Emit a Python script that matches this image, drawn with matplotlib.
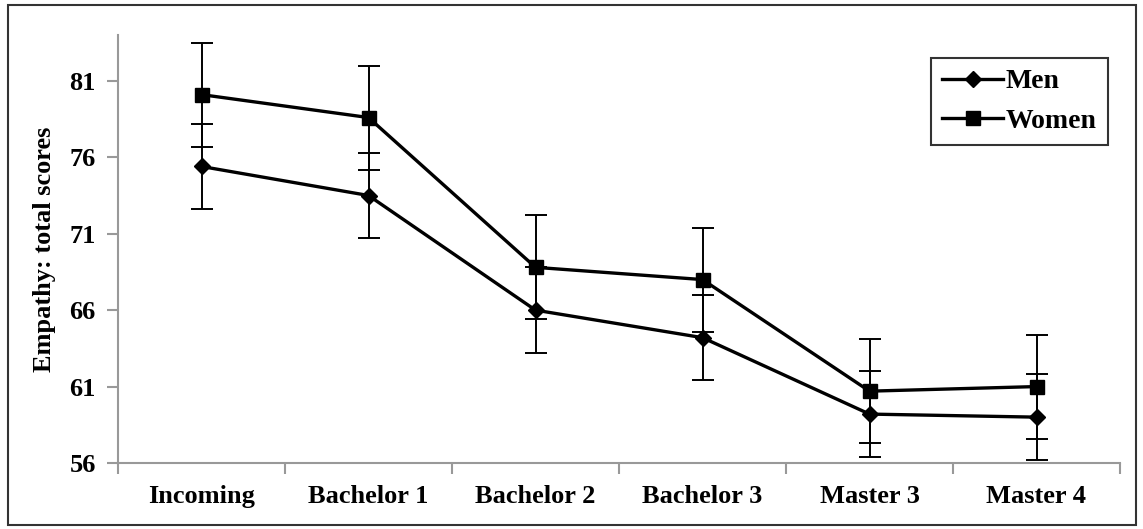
import matplotlib.pyplot as plt
from matplotlib.patches import Rectangle
from matplotlib.lines import Line2D
import numpy as np

# data
stages = ["Incoming", "Bachelor 1", "Bachelor 2", "Bachelor 3", "Master 3", "Master 4"]
men = [75.4, 73.5, 66.0, 64.2, 59.2, 59.0]
women = [80.1, 78.6, 68.8, 68.0, 60.7, 61.0]
men_err = [2.8, 2.8, 2.8, 2.8, 2.8, 2.8]
women_err = [3.4, 3.4, 3.4, 3.4, 3.4, 3.4]
yticks = [56, 61, 66, 71, 76, 81]

plt.rcParams['font.family'] = ['Liberation Serif', 'DejaVu Serif']
plt.rcParams['font.weight'] = 'bold'

fig = plt.figure(figsize=(11.43, 5.29), dpi=100)
ax = fig.add_axes([118/1143, (529-463)/529, (1120-118)/1143, (463-35)/529])

x = np.arange(len(stages))

ax.errorbar(x, men, yerr=men_err, color="k", lw=2.4, marker="D", ms=8,
            capsize=8, elinewidth=1.4, capthick=1.4, zorder=3)
ax.errorbar(x, women, yerr=women_err, color="k", lw=2.4, marker="s", ms=10,
            capsize=8, elinewidth=1.4, capthick=1.4, zorder=3)

ax.set_xlim(-0.5, len(stages) - 0.5)
ax.set_ylim(56, 84)
ax.set_yticks(yticks)
ax.set_yticklabels([str(t) for t in yticks], fontsize=19, fontweight="bold")

# category labels between boundary ticks (Excel style)
ax.set_xticks(np.arange(len(stages) + 1) - 0.5)
ax.set_xticklabels([])
ax.set_xticks(x, minor=True)
ax.set_xticklabels(stages, minor=True, fontsize=19, fontweight="bold")
ax.tick_params(axis="x", which="minor", length=0, pad=16)
ax.tick_params(axis="x", which="major", length=8, width=1.5, color="#999999", direction="out")
ax.tick_params(axis="y", length=8, width=1.5, color="#999999", direction="out", pad=8)

ax.set_ylabel("Empathy: total scores", fontsize=19, fontweight="bold", labelpad=10)

for s in ["top", "right"]:
    ax.spines[s].set_visible(False)
for s in ["left", "bottom"]:
    ax.spines[s].set_color("#999999")
    ax.spines[s].set_linewidth(1.5)

handles = [Line2D([], [], color="k", lw=2.4, marker="D", ms=8),
           Line2D([], [], color="k", lw=2.4, marker="s", ms=10)]
leg = ax.legend(handles, ["Men", "Women"], loc="upper right",
                bbox_to_anchor=(0.988, 0.947), fontsize=20,
                frameon=True, fancybox=False, edgecolor="k", handlelength=2.2,
                handletextpad=0.1, borderpad=0.4, labelspacing=0.5, borderaxespad=0)
leg.get_frame().set_linewidth(1.5)

# outer border
fig.patches.append(Rectangle((8/1143, 4/529), 1128/1143, 520/529, transform=fig.transFigure,
                             fill=False, edgecolor="#333333", lw=1.5))

fig.savefig("out.png", dpi=100)
